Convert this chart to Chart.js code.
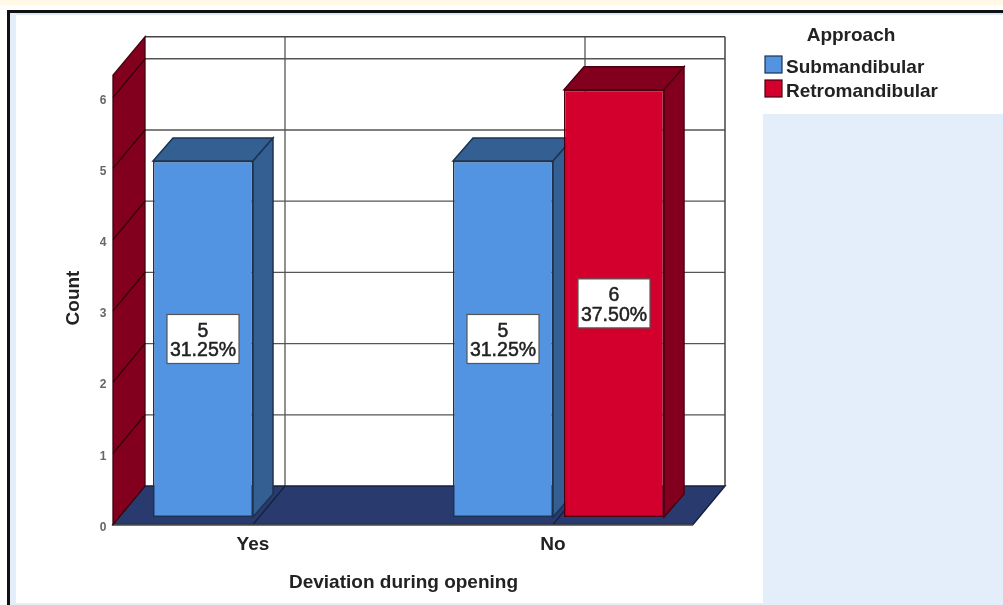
<!DOCTYPE html>
<html>
<head>
<meta charset="utf-8">
<title>Deviation during opening</title>
<style>
	html, body { margin: 0; padding: 0; background: #fff; overflow: hidden; }
	#page { position: relative; width: 1003px; height: 605px; overflow: hidden; }
	#page div { position: absolute; }
	#strip { left: 0; top: 0; width: 1003px; height: 5px; background: #fff9e6; }
	#frameTop { left: 7px; top: 10px; width: 996px; height: 3px; background: #111; }
	#frameLeft { left: 7px; top: 10px; width: 3px; height: 595px; background: #111; }
	#innerTop { left: 10px; top: 13px; width: 993px; height: 2px; background: #dbe8f8; }
	#innerLeft { left: 10px; top: 13px; width: 6px; height: 592px; background: #e3eefa; }
	#innerBottom { left: 10px; top: 603px; width: 993px; height: 2px; background: #e3eefa; }
	#panel { left: 763px; top: 114px; width: 240px; height: 491px; background: #e3eefa; }
	canvas { position: absolute; left: 0; top: 0; }
</style>
</head>
<body>
<div id="page">
	<div id="strip"></div>
	<div id="frameTop"></div>
	<div id="frameLeft"></div>
	<div id="innerTop"></div>
	<div id="innerLeft"></div>
	<div id="innerBottom"></div>
	<div id="panel"></div>
	<canvas id="myChart" width="1003" height="605"></canvas>
</div>
<script src="https://cdn.jsdelivr.net/npm/chart.js@4"></script>
<script>
const categories = ['Yes', 'No'];
const seriesNames = ['Submandibular', 'Retromandibular'];
const submandibular = [5, 5];
const retromandibular = [null, 6];
const submandibularPct = ['31.25%', '31.25%'];
const retromandibularPct = [null, '37.50%'];
const yTicks = [0, 1, 2, 3, 4, 5, 6];
const wallTop = 6.31;

const FONT = '"Liberation Sans", Arial, sans-serif';
const frontColors = ['#5294e2', '#d3002d'];
const sideColors = ['#335f92', '#82001e'];
const edgeColors = ['#1c3350', '#4a0011'];

// depth of the box around the plot, and of each bar
const boxDx = 32, boxDy = 38.5;
const barDx = 20, barDy = 23;
// the bars stand a little behind the front edge of the floor
const frontDx = -5.5, frontDy = 7.5;

function poly(ctx, pts, fill, stroke, lw) {
	ctx.beginPath();
	ctx.moveTo(pts[0][0], pts[0][1]);
	for (let i = 1; i < pts.length; i++) ctx.lineTo(pts[i][0], pts[i][1]);
	ctx.closePath();
	if (fill) {
		ctx.fillStyle = fill;
		ctx.fill();
	}
	if (stroke) {
		ctx.strokeStyle = stroke;
		ctx.lineWidth = lw || 1;
		ctx.stroke();
	}
}

function line(ctx, x1, y1, x2, y2, color, lw) {
	ctx.beginPath();
	ctx.moveTo(x1, y1);
	ctx.lineTo(x2, y2);
	ctx.strokeStyle = color;
	ctx.lineWidth = lw;
	ctx.stroke();
}

// walls, floor and grid, then the top and side faces of every bar
const box3d = {
	id: 'box3d',
	beforeDatasetsDraw(chart) {
		const ctx = chart.ctx;
		const x = chart.scales.x;
		const y = chart.scales.y;
		const left = x.left + 4.5;
		const right = x.right - 15.5;
		const base = y.getPixelForValue(0) + frontDy;
		const top = y.getPixelForValue(wallTop) + frontDy;

		ctx.save();
		// back wall grid
		yTicks.slice(1).forEach(function (v) {
			const py = y.getPixelForValue(v) + frontDy - boxDy;
			line(ctx, left + boxDx, py, right + boxDx, py, '#555', 1.3);
		});
		categories.forEach(function (c, i) {
			const px = x.getPixelForTick(i) + frontDx + boxDx;
			line(ctx, px, top - boxDy, px, base - boxDy, '#555', 1.3);
		});
		line(ctx, left + boxDx, top - boxDy, right + boxDx, top - boxDy, '#444', 1.5);
		line(ctx, right + boxDx, top - boxDy, right + boxDx, base - boxDy, '#444', 1.5);

		// floor
		poly(ctx, [[left, base], [right, base], [right + boxDx, base - boxDy], [left + boxDx, base - boxDy]], '#293b6e', '#16213f', 1.5);
		categories.forEach(function (c, i) {
			const px = x.getPixelForTick(i) + frontDx;
			line(ctx, px, base, px + boxDx, base - boxDy, '#16213f', 1.3);
		});
		line(ctx, left, base + 0.5, right, base + 0.5, '#555', 1.5);

		// left wall
		poly(ctx, [[left, top], [left + boxDx, top - boxDy], [left + boxDx, base - boxDy], [left, base]], '#82001e', '#3d000e', 1.3);
		yTicks.slice(1).forEach(function (v) {
			const py = y.getPixelForValue(v) + frontDy;
			line(ctx, left, py, left + boxDx, py - boxDy, '#2a000a', 1.2);
		});

		// bar depth faces
		chart.data.datasets.forEach(function (ds, d) {
			chart.getDatasetMeta(d).data.forEach(function (bar, i) {
				if (ds.data[i] === null) return;
				const l = bar.x - bar.width / 2;
				const r = bar.x + bar.width / 2;
				poly(ctx, [[l, bar.y], [r, bar.y], [r + barDx, bar.y - barDy], [l + barDx, bar.y - barDy]], sideColors[d], edgeColors[d], 1.5);
				poly(ctx, [[r, bar.y], [r + barDx, bar.y - barDy], [r + barDx, bar.base - barDy], [r, bar.base]], sideColors[d], edgeColors[d], 1.5);
			});
		});
		ctx.restore();
	},
	afterDatasetsDraw(chart) {
		const ctx = chart.ctx;
		ctx.save();
		ctx.textAlign = 'center';
		ctx.textBaseline = 'middle';
		ctx.font = '19.5px ' + FONT;
		chart.data.datasets.forEach(function (ds, d) {
			chart.getDatasetMeta(d).data.forEach(function (bar, i) {
				if (ds.data[i] === null) return;
				const cy = (bar.y + bar.base) / 2;
				ctx.fillStyle = '#fff';
				ctx.strokeStyle = '#555';
				ctx.lineWidth = 1.2;
				ctx.fillRect(bar.x - 36, cy - 24.5, 72, 49);
				ctx.strokeRect(bar.x - 36, cy - 24.5, 72, 49);
				// fill plus a hairline stroke gives a medium weight
				ctx.fillStyle = '#222';
				ctx.strokeStyle = '#222';
				ctx.lineWidth = 0.5;
				[[String(ds.data[i]), cy - 7.5], [ds.pct[i], cy + 12]].forEach(function (t) {
					ctx.fillText(t[0], bar.x, t[1]);
					ctx.strokeText(t[0], bar.x, t[1]);
				});
			});
		});
		ctx.restore();
	},
	afterDraw(chart) {
		const ctx = chart.ctx;
		ctx.save();
		ctx.fillStyle = '#222';
		ctx.textBaseline = 'middle';

		// axis titles
		ctx.textAlign = 'center';
		ctx.font = 'bold 19px ' + FONT;
		ctx.fillText('Deviation during opening', 403.5, 583);
		ctx.save();
		ctx.translate(74, 298);
		ctx.rotate(-Math.PI / 2);
		ctx.fillText('Count', 0, 0);
		ctx.restore();

		// legend
		ctx.fillText('Approach', 851, 36);
		ctx.textAlign = 'left';
		seriesNames.forEach(function (name, i) {
			const ly = 56 + i * 24;
			ctx.fillStyle = frontColors[i];
			ctx.fillRect(765, ly, 17, 17);
			ctx.strokeStyle = edgeColors[i];
			ctx.lineWidth = 1.2;
			ctx.strokeRect(765, ly, 17, 17);
			ctx.fillStyle = '#222';
			ctx.fillText(name, 786, ly + 12);
		});
		ctx.restore();
	}
};

new Chart(document.getElementById('myChart'), {
	type: 'bar',
	data: {
		labels: categories,
		datasets: [
			{ label: seriesNames[0], data: submandibular, pct: submandibularPct, backgroundColor: frontColors[0], borderColor: edgeColors[0] },
			{ label: seriesNames[1], data: retromandibular, pct: retromandibularPct, backgroundColor: frontColors[1], borderColor: edgeColors[1] }
		]
	},
	plugins: [box3d],
	options: {
		responsive: false,
		animation: false,
		layout: { padding: { left: 0, top: 67.7, right: 294.5, bottom: 0 } },
		datasets: {
			bar: { categoryPercentage: 0.74, barPercentage: 0.901, borderWidth: 1.5, borderSkipped: false }
		},
		plugins: {
			legend: { display: false },
			tooltip: { enabled: false }
		},
		scales: {
			x: {
				afterFit: function (scale) { scale.height = 88; },
				grid: { display: false },
				border: { display: false },
				ticks: {
					padding: 8,
					labelOffset: frontDx,
					maxRotation: 0,
					autoSkip: false,
					color: '#222',
					font: { family: FONT, size: 19, weight: 'bold' }
				}
			},
			y: {
				min: 0,
				max: wallTop,
				afterFit: function (scale) { scale.width = 108.5; },
				afterBuildTicks: function (scale) {
					scale.ticks = yTicks.map(function (v) { return { value: v }; });
				},
				grid: { display: false, drawTicks: false, tickLength: 0 },
				border: { display: false },
				ticks: {
					padding: 2,
					labelOffset: 10.5,
					color: '#666',
					font: { family: FONT, size: 12, weight: 'bold' }
				}
			}
		}
	}
});
</script>
</body>
</html>
